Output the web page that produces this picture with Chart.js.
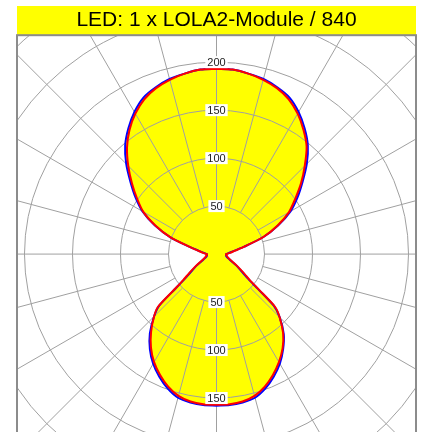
<!DOCTYPE html>
<html>
<head>
<meta charset="utf-8">
<script src="https://cdn.jsdelivr.net/npm/chart.js@4.4.1/dist/chart.umd.min.js"></script>
<style>
  body { margin: 0; background: #fff; }
  #wrap { width: 423px; height: 432px; }
</style>
</head>
<body>
<div id="wrap"><canvas id="ldc"></canvas></div>
<script>
// gamma angle from nadir (0 = straight down, 180 = straight up)
const gamma = [0, 5, 10, 15, 20, 25, 30, 35, 40, 45, 48, 50, 52, 55, 60, 65, 70, 75, 80, 85, 90,
               95, 100, 105, 110, 115, 120, 125, 130, 135, 140, 145, 150, 155, 160, 165, 170, 175, 180];

// luminous intensity (cd) per half plane
const c90  = [157, 157, 156, 153, 147, 139, 130, 120, 108, 93, 82, 58, 44, 35, 25, 18, 14, 12, 11, 10, 10,
              14, 19, 30, 52, 70, 87, 100, 115, 130, 146, 158, 169, 178, 184, 188, 191, 193, 193];
const c270 = [157, 157, 156, 153, 147, 139, 130, 119, 106, 92, 82, 57, 44, 35, 25, 18, 14, 12, 11, 10, 10,
              14, 19, 29, 51, 70, 88, 101, 115, 130, 145, 158, 169, 178, 184, 188, 191, 193, 193];
const c0   = [158, 158, 157, 155, 149, 141, 132, 121, 109, 93, 80, 56, 42, 33, 24, 17, 13, 11, 10, 10, 10,
              13, 18, 30, 52, 71, 89, 103, 117, 133, 148, 160, 171, 180, 185, 189, 191, 193, 193];
const c180 = [158, 158, 157, 155, 149, 141, 132, 121, 108, 92, 80, 55, 42, 33, 24, 17, 13, 11, 10, 10, 10,
              13, 18, 29, 51, 71, 89, 103, 117, 133, 148, 160, 171, 180, 185, 189, 191, 193, 193];

// grid / tick values
const rings = [50, 100, 150, 200, 250, 300, 350];
const spokeStep = 15;
const labelsUp = [50, 100, 150, 200];
const labelsDown = [50, 100, 150];

// polar -> x/y in cd units (right half, then left half back down)
function toXY(right, left) {
    const pts = [];
    for (let i = 0; i < gamma.length; i++) {
        const a = gamma[i] * Math.PI / 180;
        pts.push({ x: right[i] * Math.sin(a), y: -right[i] * Math.cos(a) });
    }
    for (let i = gamma.length - 1; i >= 0; i--) {
        const a = gamma[i] * Math.PI / 180;
        pts.push({ x: -left[i] * Math.sin(a), y: -left[i] * Math.cos(a) });
    }
    return pts;
}

const ldcPlugin = {
    id: 'ldc',
    beforeDraw(chart) {
        // yellow title bar
        const { ctx, chartArea: a } = chart;
        ctx.save();
        ctx.fillStyle = '#ffff00';
        ctx.fillRect(a.left, 6, a.right - a.left, a.top - 6);
        ctx.restore();
    },
    beforeDatasetsDraw(chart) {
        const { ctx, chartArea: a, scales: { x, y } } = chart;
        const cx = x.getPixelForValue(0), cy = y.getPixelForValue(0);
        const kx = x.getPixelForValue(1) - cx, ky = cy - y.getPixelForValue(1);
        ctx.save();
        ctx.beginPath();
        ctx.rect(a.left, a.top, a.right - a.left, a.bottom - a.top);
        ctx.clip();
        ctx.strokeStyle = '#a0a0a0';
        ctx.lineWidth = 1;
        rings.forEach(v => {
            ctx.beginPath();
            ctx.ellipse(cx, cy, v * kx, v * ky, 0, 0, Math.PI * 2);
            ctx.stroke();
        });
        for (let d = 0; d < 360; d += spokeStep) {
            const r = d * Math.PI / 180;
            ctx.beginPath();
            ctx.moveTo(cx + Math.sin(r) * rings[0] * kx, cy + Math.cos(r) * rings[0] * ky);
            ctx.lineTo(cx + Math.sin(r) * 500 * kx, cy + Math.cos(r) * 500 * ky);
            ctx.stroke();
        }
        ctx.restore();
    },
    afterDatasetsDraw(chart) {
        const { ctx, chartArea: a, scales: { x, y } } = chart;
        const cx = x.getPixelForValue(0);
        ctx.save();
        ctx.font = '11px "Liberation Sans", Arial, sans-serif';
        ctx.textAlign = 'center';
        ctx.textBaseline = 'middle';
        const put = (txt, py) => {
            const w = ctx.measureText(txt).width;
            ctx.fillStyle = '#fff';
            ctx.fillRect(cx - w / 2 - 2, py - 6, w + 4, 12);
            ctx.fillStyle = '#222';
            ctx.fillText(txt, cx, py + 0.5);
        };
        labelsUp.forEach(v => put(String(v), y.getPixelForValue(v)));
        labelsDown.forEach(v => put(String(v), y.getPixelForValue(-v)));
        // frame
        ctx.strokeStyle = '#8c8c8c';
        ctx.lineWidth = 2;
        ctx.strokeRect(a.left, a.top, a.right - a.left, a.bottom - a.top + 2);
        ctx.restore();
    }
};

new Chart(document.getElementById('ldc'), {
    type: 'line',
    data: {
        datasets: [
            {
                label: 'C90 - C270',
                data: toXY(c90, c270),
                borderColor: '#ff0000',
                backgroundColor: '#ffff00',
                borderWidth: 2,
                fill: 'shape',
                pointRadius: 0,
                tension: 0.25,
                order: 0
            },
            {
                label: 'C0 - C180',
                data: toXY(c0, c180),
                borderColor: '#0000ff',
                backgroundColor: '#ffff00',
                borderWidth: 2,
                fill: 'shape',
                pointRadius: 0,
                tension: 0.25,
                order: 1
            }
        ]
    },
    options: {
        responsive: true,
        maintainAspectRatio: false,
        animation: false,
        layout: { padding: { left: 17, right: 7, top: 0, bottom: 0 } },
        scales: {
            x: { type: 'linear', min: -207.8, max: 207.8, display: false },
            y: { type: 'linear', min: -185.4, max: 228.1, display: false }
        },
        plugins: {
            legend: { display: false },
            tooltip: { enabled: false },
            filler: { drawTime: 'beforeDraw' },
            title: {
                display: true,
                text: 'LED: 1 x LOLA2-Module / 840',
                color: '#000',
                font: { family: '"Liberation Sans", Arial, sans-serif', size: 21, weight: 'normal' },
                padding: { top: 8, bottom: 2 }
            }
        }
    },
    plugins: [ldcPlugin]
});
</script>
</body>
</html>
